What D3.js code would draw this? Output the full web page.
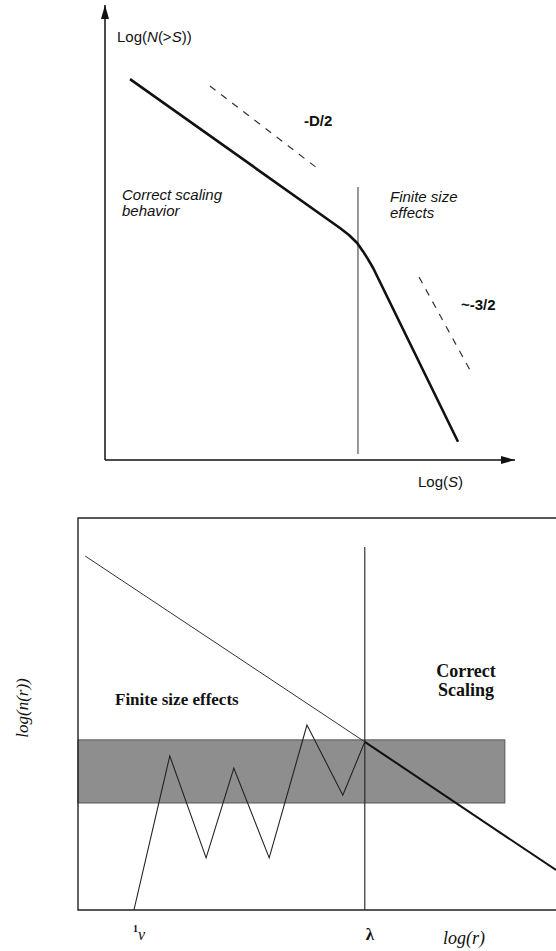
<!DOCTYPE html>
<html>
<head>
<meta charset="utf-8">
<script src="https://cdn.jsdelivr.net/npm/d3@7"></script>
<style>
  body { margin: 0; background: #fff; }
  .sans { font-family: "Liberation Sans", Arial, sans-serif; fill: #111; }
  .serif { font-family: "Liberation Serif", "Times New Roman", serif; fill: #111; }
</style>
</head>
<body>
<div id="visualization"></div>
<script>
// top panel: cumulative count vs size (log units)
var topCurve = [[0.61, 8.37], [5.73, 5.10], [5.95, 4.945], [6.15, 4.77], [6.29, 4.59], [6.41, 4.42], [6.54, 4.22], [8.61, 0.40]];
var topCutoff = 6.17, topCutoffSpan = [0.13, 6.0];
var slopeGuides = [
    [[2.56, 8.22], [5.24, 6.37]],
    [[7.66, 4.02], [8.90, 1.98]]
];

// bottom panel: log(n(r)) vs log(r)
var powerLaw = [[0.15, 9.03], [6.0, 4.29], [10, 1.02]];
var bandX = [0, 8.93], bandY = [2.73, 4.34];
var noisy = [[1.17, 0], [1.92, 3.93], [2.68, 1.33], [3.26, 3.62], [4.0, 1.33], [4.79, 4.72], [5.54, 2.93], [6.0, 4.29]];
var lambda = 6.0, lambdaTop = 9.26;

var width = 556, height = 951;

var svg = d3.select("#visualization")
    .append("svg")
    .attr("width", width)
    .attr("height", height);

svg.append("rect").attr("width", width).attr("height", height).attr("fill", "#fff");

var defs = svg.append("defs");
defs.append("marker")
    .attr("id", "arrow")
    .attr("viewBox", "0 0 14 8")
    .attr("refX", 14)
    .attr("refY", 4)
    .attr("markerWidth", 14)
    .attr("markerHeight", 8)
    .attr("markerUnits", "userSpaceOnUse")
    .attr("orient", "auto")
    .append("path")
    .attr("d", "M0,0 L14,4 L0,8 Z")
    .attr("fill", "#111");

//----- top panel -----
var xTop = d3.scaleLinear().domain([0, 10]).range([105, 515]);
var yTop = d3.scaleLinear().domain([0, 10]).range([460, 5]);
var lineTop = d3.line()
    .x(function(d) { return xTop(d[0]); })
    .y(function(d) { return yTop(d[1]); });

var gTop = svg.append("g").attr("class", "top-panel");

// axes with arrow heads
gTop.append("path")
    .attr("d", lineTop([[0, 0], [0, 10]]))
    .attr("stroke", "#111").attr("stroke-width", 1.5).attr("fill", "none")
    .attr("marker-end", "url(#arrow)");
gTop.append("path")
    .attr("d", lineTop([[0, 0], [10, 0]]))
    .attr("stroke", "#111").attr("stroke-width", 1.5).attr("fill", "none")
    .attr("marker-end", "url(#arrow)");

// cutoff line
gTop.append("path")
    .attr("d", lineTop([[topCutoff, topCutoffSpan[0]], [topCutoff, topCutoffSpan[1]]]))
    .attr("stroke", "#444").attr("stroke-width", 1.1).attr("fill", "none");

// slope guides
gTop.selectAll("path.guide")
    .data(slopeGuides)
    .enter().append("path")
    .attr("class", "guide")
    .attr("d", lineTop)
    .attr("stroke", "#333").attr("stroke-width", 1.2)
    .attr("stroke-dasharray", "7,7").attr("fill", "none");

// distribution curve
gTop.append("path")
    .attr("d", lineTop(topCurve))
    .attr("stroke", "#111").attr("stroke-width", 2.6).attr("fill", "none")
    .attr("stroke-linejoin", "round");

var yLab = gTop.append("text").attr("class", "sans").attr("x", 117).attr("y", 42).attr("font-size", 15);
yLab.append("tspan").text("Log(");
yLab.append("tspan").attr("font-style", "italic").text("N");
yLab.append("tspan").text("(>");
yLab.append("tspan").attr("font-style", "italic").text("S");
yLab.append("tspan").text("))");

var xLab = gTop.append("text").attr("class", "sans").attr("x", 418).attr("y", 487).attr("font-size", 15);
xLab.append("tspan").text("Log(");
xLab.append("tspan").attr("font-style", "italic").text("S");
xLab.append("tspan").text(")");

gTop.append("text").attr("class", "sans").attr("x", 304).attr("y", 126)
    .attr("font-size", 15).attr("font-weight", "bold").text("-D/2");
gTop.append("text").attr("class", "sans").attr("x", 461).attr("y", 310)
    .attr("font-size", 15).attr("font-weight", "bold").text("~-3/2");

function multiline(g, lines, x, y, cls, size, style, weight, anchor) {
    var t = g.append("text").attr("class", cls).attr("font-size", size)
        .attr("font-style", style).attr("font-weight", weight)
        .attr("text-anchor", anchor);
    lines.forEach(function(s, i) {
        t.append("tspan").attr("x", x).attr("y", y + i * (size + 1)).text(s);
    });
}
multiline(gTop, ["Correct scaling", "behavior"], 122, 200, "sans", 15, "italic", "normal", "start");
multiline(gTop, ["Finite size", "effects"], 390, 202, "sans", 15, "italic", "normal", "start");

//----- bottom panel -----
var xBot = d3.scaleLinear().domain([0, 10]).range([78, 556]);
var yBot = d3.scaleLinear().domain([0, 10]).range([910, 518]);
var lineBot = d3.line()
    .x(function(d) { return xBot(d[0]); })
    .y(function(d) { return yBot(d[1]); });

var gBot = svg.append("g").attr("class", "bottom-panel");

// shaded band
gBot.append("rect")
    .attr("x", xBot(bandX[0]))
    .attr("y", yBot(bandY[1]))
    .attr("width", xBot(bandX[1]) - xBot(bandX[0]))
    .attr("height", yBot(bandY[0]) - yBot(bandY[1]))
    .attr("fill", "#8e8e8e")
    .attr("stroke", "#555").attr("stroke-width", 1);

// frame
gBot.append("path")
    .attr("d", lineBot([[10, 10], [0, 10], [0, 0], [10, 0]]))
    .attr("stroke", "#222").attr("stroke-width", 1.4).attr("fill", "none");

// lambda line
gBot.append("path")
    .attr("d", lineBot([[lambda, 0], [lambda, lambdaTop]]))
    .attr("stroke", "#222").attr("stroke-width", 1.1).attr("fill", "none");

// power law: thin below lambda, thick above
gBot.append("path")
    .attr("d", lineBot(powerLaw.slice(0, 2)))
    .attr("stroke", "#333").attr("stroke-width", 1).attr("fill", "none");
gBot.append("path")
    .attr("d", lineBot(powerLaw.slice(1)))
    .attr("stroke", "#111").attr("stroke-width", 2).attr("fill", "none");

// noisy measurement
gBot.append("path")
    .attr("d", lineBot(noisy))
    .attr("stroke", "#222").attr("stroke-width", 1.1).attr("fill", "none");

gBot.append("text").attr("class", "serif").attr("x", 115).attr("y", 705)
    .attr("font-size", 17).attr("font-weight", "bold").text("Finite size effects");
multiline(gBot, ["Correct", "Scaling"], 466, 677, "serif", 18, "normal", "bold", "middle");

gBot.append("text").attr("class", "serif")
    .attr("transform", "translate(28,708) rotate(-90)")
    .attr("text-anchor", "middle")
    .attr("font-size", 17).attr("font-style", "italic").text("log(n(r))");

var lv = gBot.append("text").attr("class", "serif").attr("x", 133).attr("y", 932);
lv.append("tspan").attr("font-size", 10).attr("font-weight", "bold").text("1");
lv.append("tspan").attr("dy", 8).attr("font-size", 16).attr("font-style", "italic").text("ν");

gBot.append("text").attr("class", "serif").attr("x", 370).attr("y", 940)
    .attr("text-anchor", "middle").attr("font-size", 17).attr("font-weight", "bold").text("λ");
gBot.append("text").attr("class", "serif").attr("x", 443).attr("y", 944)
    .attr("font-size", 18).attr("font-style", "italic").text("log(r)");
</script>
</body>
</html>
